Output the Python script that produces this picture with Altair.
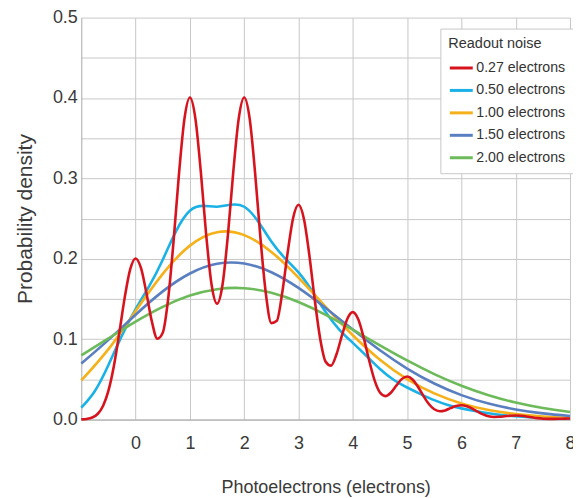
import altair as alt
import pandas as pd

# Legend labels and colours (legend order)
noise_labels = ["0.27 electrons", "0.50 electrons", "1.00 electrons", "1.50 electrons", "2.00 electrons"]
noise_colors = ["#d7141e", "#1ab2e6", "#f5b11a", "#5a7fc0", "#6cba5a"]

# 0.27 electrons (read every 0.1 electron)
red_x = [-1.0, -0.9, -0.8, -0.7, -0.6, -0.5, -0.4, -0.3, -0.2, -0.1,
         0.0, 0.1, 0.2, 0.3, 0.4, 0.5, 0.6, 0.7, 0.8, 0.9,
         1.0, 1.1, 1.2, 1.3, 1.4, 1.5, 1.6, 1.7, 1.8, 1.9,
         2.0, 2.1, 2.2, 2.3, 2.4, 2.5, 2.6, 2.7, 2.8, 2.9,
         3.0, 3.1, 3.2, 3.3, 3.4, 3.5, 3.6, 3.7, 3.8, 3.9,
         4.0, 4.1, 4.2, 4.3, 4.4, 4.5, 4.6, 4.7, 4.8, 4.9,
         5.0, 5.1, 5.2, 5.3, 5.4, 5.5, 5.6, 5.7, 5.8, 5.9,
         6.0, 6.1, 6.2, 6.3, 6.4, 6.5, 6.6, 6.7, 6.8, 6.9,
         7.0, 7.1, 7.2, 7.3, 7.4, 7.5, 7.6, 7.7, 7.8, 7.9, 8.0]
red_y = [0.0002, 0.0008, 0.0025, 0.0069, 0.0169, 0.0360, 0.0667, 0.1079, 0.1520, 0.1868,
         0.2004, 0.1883, 0.1570, 0.1218, 0.1006, 0.1080, 0.1504, 0.2227, 0.3065, 0.3743,
         0.4006, 0.3750, 0.3090, 0.2296, 0.1673, 0.1440, 0.1673, 0.2296, 0.3090, 0.3750,
         0.4006, 0.3746, 0.3073, 0.2250, 0.1560, 0.1200, 0.1228, 0.1577, 0.2076, 0.2505,
         0.2672, 0.2496, 0.2043, 0.1485, 0.1003, 0.0720, 0.0671, 0.0812, 0.1046, 0.1255,
         0.1337, 0.1247, 0.1020, 0.0738, 0.0490, 0.0336, 0.0291, 0.0334, 0.0422, 0.0503,
         0.0535, 0.0499, 0.0408, 0.0294, 0.0193, 0.0128, 0.0104, 0.0114, 0.0142, 0.0168,
         0.0178, 0.0166, 0.0136, 0.0098, 0.0064, 0.0041, 0.0032, 0.0034, 0.0041, 0.0048,
         0.0051, 0.0047, 0.0039, 0.0028, 0.0018, 0.0011, 0.0009, 0.0009, 0.0010, 0.0012, 0.0013]

# 0.50 electrons (read every 0.25 electron)
cyan_x = [-1.0, -0.75, -0.5, -0.25, 0.0, 0.25, 0.5, 0.75, 1.0, 1.25, 1.5, 1.75,
          2.0, 2.25, 2.5, 2.75, 3.0, 3.25, 3.5, 3.75, 4.0, 4.25, 4.5, 4.75,
          5.0, 5.25, 5.5, 5.75, 6.0, 6.25, 6.5, 6.75, 7.0, 7.25, 7.5, 7.75, 8.0]
cyan_y = [0.01469, 0.03553, 0.06790, 0.10479, 0.13728, 0.16588, 0.19888, 0.23514,
          0.25985, 0.26576, 0.26478, 0.26726, 0.26473, 0.24698, 0.22151, 0.20081,
          0.18303, 0.15999, 0.13371, 0.11201, 0.09544, 0.07922, 0.06283, 0.04952,
          0.03989, 0.03170, 0.02412, 0.01810, 0.01389, 0.01063, 0.00781, 0.00563,
          0.00414, 0.00307, 0.00219, 0.00152, 0.00108]

# 1.00, 1.50, 2.00 electrons (read every 0.5 electron)
half_x = [-1.0, -0.5, 0.0, 0.5, 1.0, 1.5, 2.0, 2.5, 3.0, 3.5, 4.0,
          4.5, 5.0, 5.5, 6.0, 6.5, 7.0, 7.5, 8.0]
orange_y = [0.04859, 0.08761, 0.13491, 0.18124, 0.21637, 0.23310, 0.22948, 0.20858,
            0.17653, 0.14010, 0.10489, 0.07444, 0.05031, 0.03249, 0.02012, 0.01198,
            0.00687, 0.00381, 0.00205]
blue_y = [0.06963, 0.09910, 0.13045, 0.15947, 0.18172, 0.19379, 0.19412, 0.18330,
          0.16372, 0.13876, 0.11192, 0.08615, 0.06345, 0.04482, 0.03042, 0.01989,
          0.01255, 0.00765, 0.00451]
green_y = [0.07985, 0.10103, 0.12185, 0.14025, 0.15422, 0.16221, 0.16338, 0.15779,
           0.14628, 0.13034, 0.11175, 0.09230, 0.07353, 0.05656, 0.04206, 0.03026,
           0.02109, 0.01426, 0.00935]

x_ticks = [0, 1, 2, 3, 4, 5, 6, 7, 8]
y_grid = [0.0, 0.05, 0.1, 0.15, 0.2, 0.25, 0.3, 0.35, 0.4, 0.45, 0.5]

FONT = "Liberation Sans"

x_enc = alt.X(
    "x:Q",
    scale=alt.Scale(domain=[-1, 8], nice=False, zero=False),
    axis=alt.Axis(values=x_ticks, format="d", ticks=False, labelPadding=15,
                  titlePadding=26, labelFontSize=18, titleFontSize=18,
                  titleFontWeight="normal", labelColor="#3a3a3a", titleColor="#3a3a3a",
                  labelFont=FONT, titleFont=FONT, domainColor="#a8a8a8",
                  gridColor="#c8c8c8", labelFlush=False),
    title="Photoelectrons (electrons)",
)
y_enc = alt.Y(
    "y:Q",
    scale=alt.Scale(domain=[0, 0.5], nice=False),
    axis=alt.Axis(values=y_grid, ticks=False, labelPadding=4, titlePadding=17,
                  labelExpr="round(datum.value*100) % 10 == 0 ? format(datum.value, '.1f') : ''",
                  labelFontSize=18, titleFontSize=21, titleFontWeight="normal",
                  labelColor="#3a3a3a", titleColor="#3a3a3a", labelFont=FONT,
                  titleFont=FONT, domainColor="#a8a8a8", gridColor="#c8c8c8"),
    title="Probability density",
)
color_enc = alt.Color(
    "noise:N",
    scale=alt.Scale(domain=noise_labels, range=noise_colors),
    legend=alt.Legend(
        title="Readout noise", orient="none", legendX=360, legendY=11,
        fillColor="white", strokeColor="#c8c8c8", padding=8,
        titleFontSize=14.5, titleFontWeight="normal", titleFont=FONT, titleColor="#333333",
        titlePadding=4, labelFontSize=14.2, labelFont=FONT, labelColor="#333333",
        symbolType="stroke", symbolSize=529, symbolStrokeWidth=3, labelOffset=2,
        rowPadding=1.5, columnPadding=0,
    ),
)


def series(xs, ys, label, interp):
    df = pd.DataFrame({"x": xs, "y": ys, "noise": [label] * len(xs)})
    return alt.Chart(df).mark_line(strokeWidth=2.6, interpolate=interp).encode(
        x=x_enc, y=y_enc, color=color_enc
    )


chart = alt.layer(
    series(cyan_x, cyan_y, noise_labels[1], "natural"),
    series(half_x, orange_y, noise_labels[2], "natural"),
    series(half_x, blue_y, noise_labels[3], "natural"),
    series(half_x, green_y, noise_labels[4], "natural"),
    series(red_x, red_y, noise_labels[0], "monotone"),
).properties(
    width=490, height=403,
    padding={"left": 5.5, "top": 0, "right": -3, "bottom": 0},
    background="white",
).configure_view(strokeWidth=0)

chart.save("out.html", embed_options={"renderer": "svg", "actions": False})
